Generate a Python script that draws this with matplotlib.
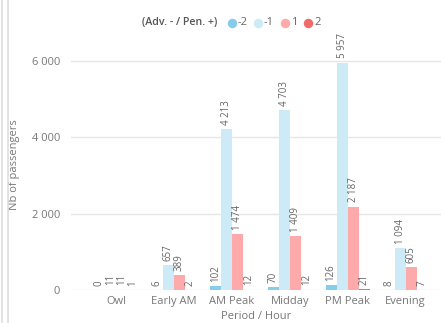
import matplotlib
matplotlib.use("Agg")
import matplotlib.pyplot as plt
from matplotlib.lines import Line2D
import numpy as np

plt.rcParams['font.family'] = ['Open Sans', 'DejaVu Sans']

periods = ["Owl", "Early AM", "AM Peak", "Midday", "PM Peak", "Evening"]
series_names = ["-2", "-1", "1", "2"]
vals_m2 = [0, 6, 102, 70, 126, 8]
vals_m1 = [11, 657, 4213, 4703, 5957, 1094]
vals_p1 = [11, 389, 1474, 1409, 2187, 605]
vals_p2 = [1, 2, 12, 12, 21, 7]
series = [vals_m2, vals_m1, vals_p1, vals_p2]
colors = ["#86CDEB", "#CDEBF6", "#FFAAAA", "#F26B6B"]
yticks = [0, 2000, 4000, 6000]

W, H = 441, 323
fig = plt.figure(figsize=(W / 100, H / 100), dpi=100)
ax = fig.add_axes([71 / W, 33 / H, 1 - 71 / W, 250 / H])

x = np.arange(len(periods))
bw = 0.19
offsets = (np.arange(4) - 1.5) * bw


def fmt(v):
    return f"{v:,}".replace(",", " ")


for vals, off, col in zip(series, offsets, colors):
    ax.bar(x + off, vals, width=bw, color=col, zorder=2, linewidth=0)
    for xi, v in zip(x, vals):
        ax.annotate(fmt(v), (xi + off, v), xytext=(0, 3), textcoords="offset points",
                    rotation=90, ha="center", va="bottom", fontsize=7,
                    color="#666666", annotation_clip=False)

ax.set_xlim(-0.777, 5.613)
ax.set_ylim(0, 6550)
ax.set_yticks(yticks)
ax.set_yticklabels([fmt(t) for t in yticks])
ax.set_xticks(x)
ax.set_xticklabels(periods)
ax.grid(axis="y", color="#e6e6e6", linewidth=1, zorder=0)
ax.set_axisbelow(True)
for s in ax.spines.values():
    s.set_visible(False)
ax.tick_params(axis="both", length=0, labelsize=8, colors="#777777")
ax.tick_params(axis="y", pad=8)
ax.tick_params(axis="x", pad=4)
ax.set_xlabel("Period / Hour", fontsize=8, color="#777777", labelpad=3)
ax.set_ylabel("Nb of passengers", fontsize=8, color="#777777")
ax.yaxis.set_label_coords((20 - 71) / (W - 71), 0.5)

# legend row
ly = 1 - 22.5 / H
fig.text(142 / W, ly, "(Adv. - / Pen. +)", fontsize=7.7, color="#555555",
         ha="left", va="center", fontweight="semibold")
dot_x = [232, 258, 285, 308]
for name, col, dx in zip(series_names, colors, dot_x):
    fig.add_artist(Line2D([dx / W], [ly], marker="o", markersize=5.8,
                          color=col, linestyle="none", transform=fig.transFigure))
    fig.text((dx + 6) / W, ly, name, fontsize=8, color="#666666",
             ha="left", va="center")

# panel frame on the left edge
for px in (1.5, 8):
    fig.add_artist(Line2D([px / W, px / W], [0, 1], color="#dddddd",
                          linewidth=1.2, transform=fig.transFigure))

fig.savefig("out.png", dpi=100)
